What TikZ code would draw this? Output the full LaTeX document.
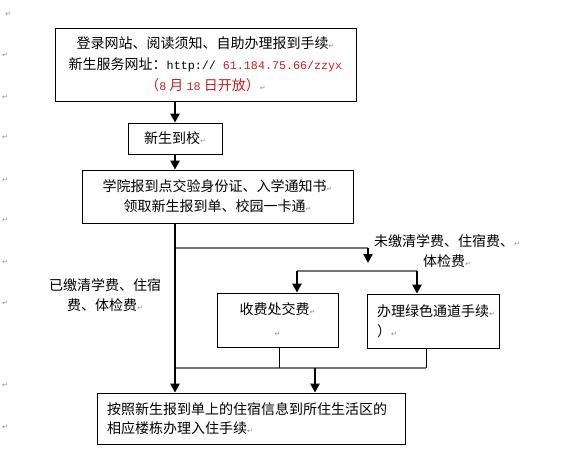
\documentclass[tikz,border=0pt]{standalone}
\usepackage{fontspec}
\setmainfont{Noto Sans CJK SC}
\newfontfamily\monof{Liberation Mono}
\newfontfamily\symf{DejaVu Sans}
\usetikzlibrary{arrows.meta}
\definecolor{urlred}{RGB}{200,30,30}
\newcommand{\pmk}{{\symf\fontsize{7}{7}\selectfont\textcolor{black!45}{↵}}}
\newcommand{\mf}{\monof\fontsize{11.7}{20}\selectfont}
\begin{document}
\begin{tikzpicture}[x=1pt,y=-1pt,
  box/.style={draw, line width=0.8pt, inner sep=0pt, font=\fontsize{14}{20}\selectfont},
  txt/.style={inner sep=0pt, font=\fontsize{14}{20}\selectfont},
  arr/.style={line width=2.7pt, -{Triangle[length=9pt,width=9pt]}},
  gline/.style={draw=black!55, line width=1.6pt},
  tline/.style={line width=0.8pt},
  margin/.style={inner sep=0pt, anchor=west}
]
\useasboundingbox (0,0) rectangle (586,469);

% boxes
\node[box, minimum width=301pt, minimum height=73pt, align=center,
      font=\fontsize{14}{21}\selectfont] (b1) at (205.5,64.5)
  {登录网站、阅读须知、自助办理报到手续\pmk\\
   新生服务网址：{\mf http:// \textcolor{urlred}{61.184.75.66/zzyx}}\\
   \textcolor{urlred}{（{\mf 8} 月 {\mf 18} 日开放）}\pmk};
\node[box, minimum width=94pt, minimum height=31pt] (b2) at (175,138.5) {新生到校\pmk};
\node[box, minimum width=271pt, minimum height=53pt, align=center] (b3) at (217.5,196.5)
  {学院报到点交验身份证、入学通知书\pmk\\领取新生报到单、校园一卡通\pmk};
\node[box, minimum width=121pt, minimum height=54pt, align=center,
      font=\fontsize{14}{22}\selectfont] (b4) at (277.5,320)
  {收费处交费\pmk\\\pmk};
\node[box, minimum width=132pt, minimum height=54pt] (b5) at (433,321) {};
\node[txt, anchor=west, align=left, font=\fontsize{14}{20}\selectfont] (t5) at (377,321)
  {办理绿色通道手续\pmk\\）\pmk};
\node[box, minimum width=308pt, minimum height=51pt] (b6) at (251,418.5) {};
\node[txt, anchor=west, align=left, font=\fontsize{14}{19}\selectfont] (t6) at (107,419)
  {按照新生报到单上的住宿信息到所住生活区的\\相应楼栋办理入住手续\pmk};

% labels
\node[txt, align=center] (la) at (447,251.5) {未缴清学费、住宿费、\pmk\\体检费\pmk};
\node[txt, align=center] (lb) at (105,295) {已缴清学费、住宿\\费、体检费\pmk};

% coordinates
\coordinate (j1) at (175,248);
\coordinate (j2) at (368,248);
\coordinate (ja) at (368,263);
\coordinate (l1) at (297,271);
\coordinate (l2) at (417,271);
\coordinate (m1) at (175,368);
\coordinate (m2) at (279,368);
\coordinate (m3) at (426,368);
\coordinate (m4) at (315,368);

% connectors
\draw[arr] (b1.south -| b2) -- (b2.north);
\draw[arr] (b2.south) -- (b2.south |- b3.north);
\draw[gline] (j1) -- (j2);
\draw[gline] (m1) -- (m3);
\draw[gline] (l1) -- (l2);
\draw[arr] (b3.south -| b2) -- (b2 |- b6.north);
\draw[arr] (j2) -- (ja);
\draw[arr] (l1) -- (l1 |- b4.north);
\draw[arr] (l2) -- (l2 |- b5.north);
\draw[tline] (m2 |- b4.south) -- (m2);
\draw[tline] (m3 |- b5.south) -- (m3);
\draw[arr] (m4) -- (m4 |- b6.north);

% paragraph marks in the margin
\foreach \yy [count=\i] in {55,97,137,180,220,262,303,385,427}
  \node[margin] (pm\i) at (2,\yy) {\pmk};
\node[margin] (pm0) at (5,14) {\pmk};
\end{tikzpicture}
\end{document}
